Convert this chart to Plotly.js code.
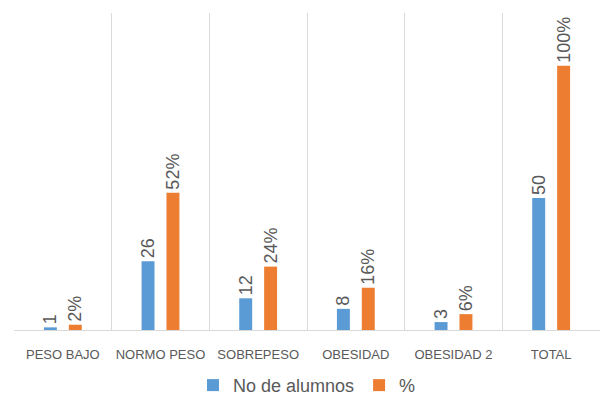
<!DOCTYPE html>
<html>
<head>
<meta charset="utf-8">
<script src="https://cdn.plot.ly/plotly-3.0.1.min.js"></script>
<style>
html,body{margin:0;padding:0;background:#fff;}
#chart{width:602px;height:401px;}
</style>
</head>
<body>
<div id="chart"></div>
<script>
const categories = ["PESO BAJO", "NORMO PESO", "SOBREPESO", "OBESIDAD", "OBESIDAD 2", "TOTAL"];
const alumnos = [1, 26, 12, 8, 3, 50];
const porcentaje = [2, 52, 24, 16, 6, 100];
const seriesNames = ["No de alumnos", "%"];

const labelFont = {family: "Liberation Sans, Arial, sans-serif", size: 18, color: "#595959"};

const traces = [
  {
    type: "bar", name: seriesNames[0], x: categories, y: alumnos,
    marker: {color: "#5B9BD5"},
    text: alumnos.map(String), textposition: "outside", textangle: -90, constraintext: "none",
    textfont: labelFont, cliponaxis: false, hoverinfo: "none"
  },
  {
    type: "bar", name: seriesNames[1], x: categories, y: porcentaje,
    marker: {color: "#ED7D31"},
    text: porcentaje.map(v => v + "%"), textposition: "outside", textangle: -90, constraintext: "none",
    textfont: labelFont, cliponaxis: false, hoverinfo: "none"
  }
];

const layout = {
  width: 602, height: 401,
  margin: {l: 14, r: 2, t: 13, b: 71, autoexpand: false},
  paper_bgcolor: "#fff", plot_bgcolor: "#fff",
  barmode: "group", bargap: 0.49, bargroupgap: 0.48,
  showlegend: true,
  legend: {orientation: "h", x: 0.5, xanchor: "center", yref: "container", y: 0.085, yanchor: "top",
           font: {family: "Liberation Sans, Arial, sans-serif", size: 18, color: "#595959"},
           itemwidth: 30, traceorder: "normal"},
  xaxis: {
    type: "category", tickson: "boundaries", showgrid: true, gridcolor: "#d9d9d9", gridwidth: 1,
    showline: true, linecolor: "#d9d9d9", ticks: "", ticklen: 0, ticklabelstandoff: 12,
    tickfont: {family: "Liberation Sans, Arial, sans-serif", size: 13, color: "#595959"},
    fixedrange: true
  },
  yaxis: {range: [0, 120], visible: false, showgrid: false, zeroline: false, fixedrange: true}
};

Plotly.newPlot("chart", traces, layout, {displayModeBar: false, staticPlot: true});
</script>
</body>
</html>
